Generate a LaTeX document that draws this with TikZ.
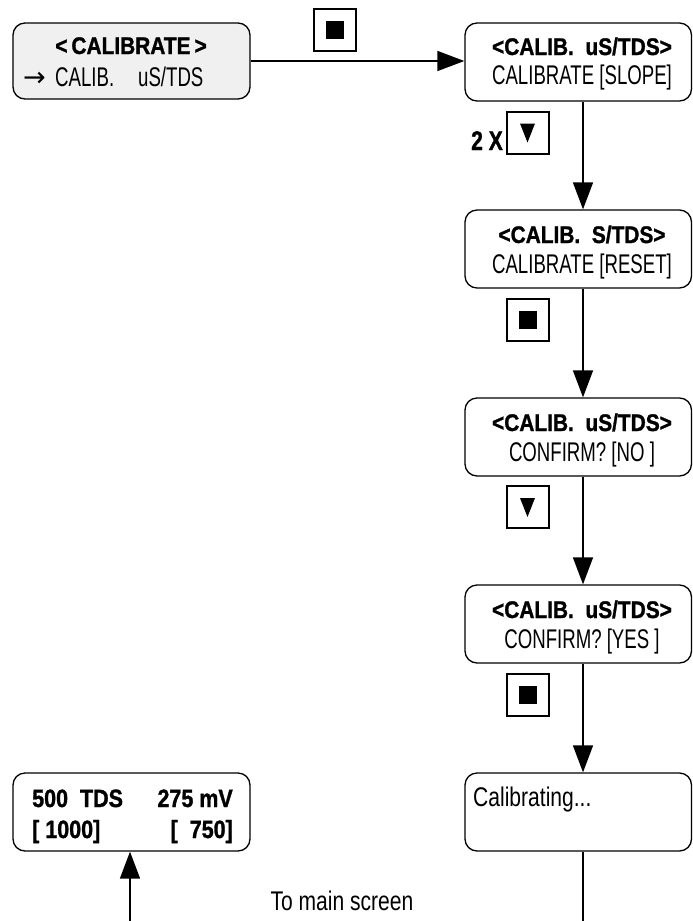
\documentclass[tikz,border=0pt]{standalone}
\usepackage{fontspec}
\setmainfont{Liberation Sans}
\newfontfamily\regf{Liberation Sans}[FakeStretch=0.69]
\newfontfamily\regw{Liberation Sans}[FakeStretch=0.78]
\newfontfamily\boldf{Liberation Sans}[FakeStretch=0.87,FakeBold=1.2]
\newfontfamily\boldv{Liberation Sans}[FakeStretch=0.86,FakeBold=1.2]
\newfontfamily\boldn{Liberation Sans}[FakeStretch=0.78,FakeBold=1.2]
\newfontfamily\arrf{DejaVu Sans}
\usetikzlibrary{arrows.meta,calc}
\definecolor{boxgray}{HTML}{F0F0F0}
\tikzset{
  screen/.style={draw=black, line width=1.3pt, rounded corners=12pt, rectangle,
    minimum width=226.5pt, minimum height=78pt, inner sep=0pt},
  titletxt/.style={inner sep=0pt, anchor=base, font=\boldf\bfseries\fontsize{24}{26}\selectfont},
  linetxt/.style={inner sep=0pt, anchor=base, font=\regf\fontsize{27}{29}\selectfont},
  widetxt/.style={inner sep=0pt, font=\regw\fontsize{27}{29}\selectfont},
  valtxt/.style={inner sep=0pt, font=\boldv\bfseries\fontsize{25}{27}\selectfont},
  keybox/.style={draw=black, line width=2pt, rectangle, minimum width=42pt, minimum height=42pt, inner sep=0pt},
  stopkey/.style={keybox, path picture={\fill[black] ($(path picture bounding box.center)+(-9,-9)$) rectangle +(18,18);}},
  downkey/.style={keybox, path picture={\fill[black] ($(path picture bounding box.center)+(-7.5,-9)$) -- ++(15,0) -- ($(path picture bounding box.center)+(0,10)$) -- cycle;}},
  conn/.style={line width=1.5pt, -{Triangle[length=27pt,width=20pt]}},
  plainline/.style={line width=1.5pt}
}
\begin{document}
\begin{tikzpicture}[x=1pt,y=-1pt]
\useasboundingbox (0,0) rectangle (693,921);
% screens
\node[screen, fill=boxgray, minimum width=237pt, minimum height=76pt] (b1) at (131.5,61) {};
\node[screen] (b2) at (578.25,62) {};
\node[screen] (b3) at (578.25,249) {};
\node[screen] (b4) at (578.25,437) {};
\node[screen] (b5) at (578.25,624) {};
\node[screen] (b6) at (578.25,812) {};
\node[screen, minimum width=237pt] (b7) at (131.5,812) {};
% texts
\node[titletxt] (t1) at (131,54) {<\,CALIBRATE\,>};
\node[linetxt, anchor=base west] (l1) at (23,86) {\makebox[32pt][l]{\arrf\fontsize{27}{29}\selectfont →}\makebox[83pt][l]{CALIB.}uS/TDS};
\node[titletxt] (t2) at (582,55) {<CALIB.\ \ uS/TDS>};
\node[linetxt] (l2) at (582,84) {CALIBRATE [SLOPE]};
\node[titletxt] (t3) at (582,243) {<CALIB.\ \ S/TDS>};
\node[linetxt] (l3) at (582,273) {CALIBRATE [RESET]};
\node[titletxt] (t4) at (582,431) {<CALIB.\ \ uS/TDS>};
\node[linetxt] (l4) at (582,461) {CONFIRM? [NO ]};
\node[titletxt] (t5) at (582,618) {<CALIB.\ \ uS/TDS>};
\node[linetxt] (l5) at (582,648) {CONFIRM? [YES ]};
\node[widetxt, anchor=base west] (l6) at (473,806) {Calibrating...};
\node[valtxt, anchor=base west] (v1) at (32,807) {500\ \ TDS};
\node[valtxt, anchor=base east] (v2) at (233,807) {275 mV};
\node[valtxt, anchor=base west] (v3) at (32,838) {[ 1000]};
\node[valtxt, anchor=base east] (v4) at (233,838) {[\ \ 750]};
\node[widetxt, anchor=base] (tm) at (342,910) {To main screen};
% keys
\node[stopkey] (k1) at (334.5,30) {};
\node[downkey] (k2) at (527.5,132.5) {};
\node[inner sep=0pt, anchor=base east, font=\boldn\bfseries\fontsize{27}{29}\selectfont] (x2) at (503,150) {2 X};
\node[stopkey] (k3) at (527.5,319.5) {};
\node[downkey] (k4) at (527.5,507) {};
\node[stopkey] (k5) at (527.5,694.5) {};
% connectors
\coordinate (vx) at (583,0);
\coordinate (bend) at (583,921);
\coordinate (ustart) at (130,921);
\draw[conn] (b1.east) -- (b1.east -| b2.west);
\draw[conn] (b2.south -| vx) -- (b3.north -| vx);
\draw[conn] (b3.south -| vx) -- (b4.north -| vx);
\draw[conn] (b4.south -| vx) -- (b5.north -| vx);
\draw[conn] (b5.south -| vx) -- (b6.north -| vx);
\draw[plainline] (b6.south -| vx) -- (bend);
\draw[conn] (ustart) -- (ustart |- b7.south);
\end{tikzpicture}
\end{document}
